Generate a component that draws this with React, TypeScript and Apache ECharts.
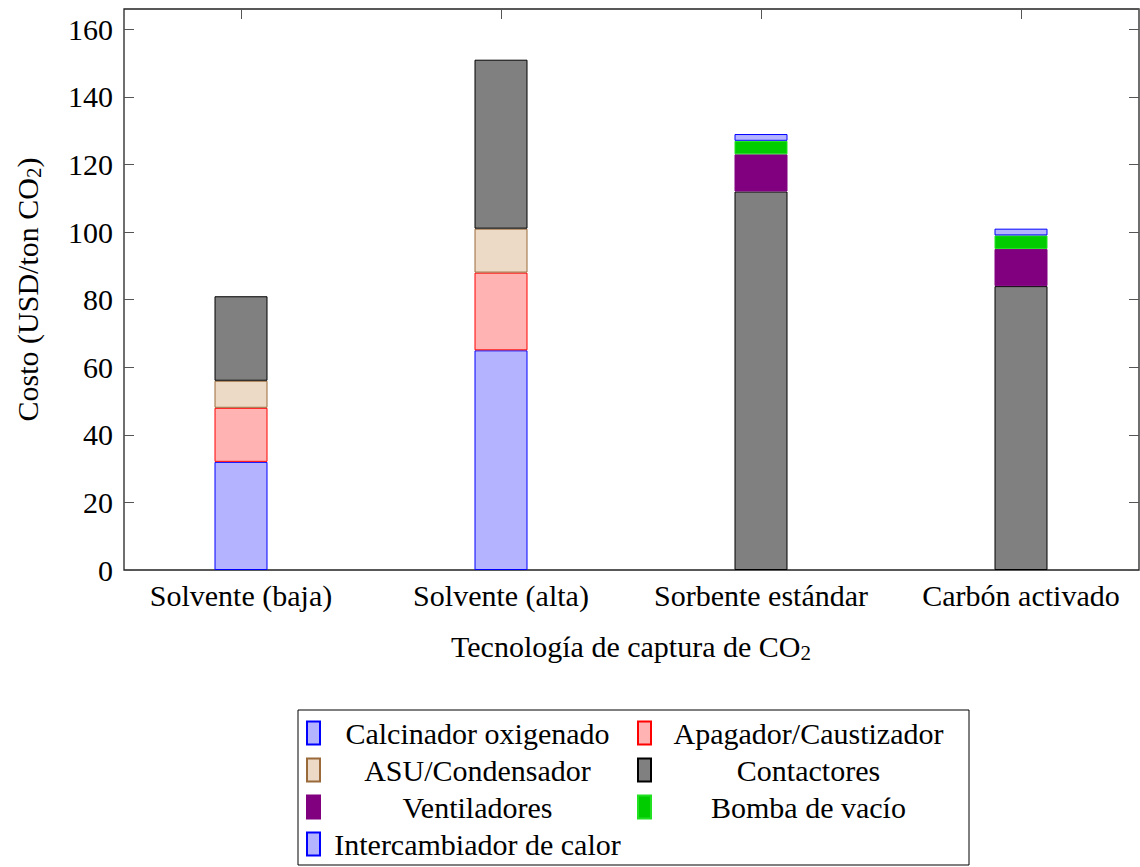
import React, { useEffect, useRef } from "react";
import * as echarts from "echarts";

// Cost breakdown per capture technology (USD per ton of CO2)
const categories = ["Solvente (baja)", "Solvente (alta)", "Sorbente estándar", "Carbón activado"];
const calcinador = [32, 65, null, null];
const apagador = [16, 23, null, null];
const asu = [8, 13, null, null];
const contactores = [25, 50, 112, 84];
const ventiladores = [null, null, 11, 11];
const bomba = [null, null, 4, 4];
const intercambiador = [null, null, 2, 2];

const yTicks = { min: 0, max: 166, interval: 20 };

const FONT = "Liberation Serif";
const FS = 30;

const seriesDefs = [
  { name: "Calcinador oxigenado", data: calcinador, fill: "#b3b3ff", stroke: "#0000ff" },
  { name: "Apagador/Caustizador", data: apagador, fill: "#ffb3b3", stroke: "#ff0000" },
  { name: "ASU/Condensador", data: asu, fill: "#ecd9c6", stroke: "#9a6a3a" },
  { name: "Contactores", data: contactores, fill: "#808080", stroke: "#000000" },
  { name: "Ventiladores", data: ventiladores, fill: "#800080", stroke: "#800080" },
  { name: "Bomba de vacío", data: bomba, fill: "#00cc00", stroke: "#22e022" },
  { name: "Intercambiador de calor", data: intercambiador, fill: "#b3b3ff", stroke: "#0000ff" },
];

// The canvas is a little wider than the page so the bar grid can extend past
// the frame: categories then keep the spacing of an axis with enlarged limits.
const CANVAS_W = 1160;
const FRAME = { left: 124, right: CANVAS_W - 1139, top: 9, bottom: 297 };
const BARS = { left: 111, width: 1040, top: 9, bottom: 297 };

export default function App() {
  const ref = useRef<HTMLDivElement>(null);

  useEffect(() => {
    if (!ref.current) return;
    const chart = echarts.init(ref.current, null, { renderer: "svg" });

    const subRich = {
      sub: { fontSize: 21, fontFamily: FONT, color: "#000", padding: [12, 0, 0, 0] },
    };

    const innerTick = { show: true, inside: true, length: 10, lineStyle: { color: "#555", width: 1 } };
    const noLine = { show: false, onZero: false };

    chart.setOption({
      animation: false,
      textStyle: { fontFamily: FONT },
      grid: [
        {
          ...FRAME,
          containLabel: false,
          show: true,
          borderColor: "#222",
          borderWidth: 1.3,
          backgroundColor: "transparent",
        },
        { ...BARS, containLabel: false },
      ],
      legend: {
        left: 298,
        top: 710,
        width: 664,
        orient: "horizontal",
        padding: [8, 8, 6, 8],
        itemGap: 7,
        itemWidth: 13,
        itemHeight: 23,
        borderColor: "#000",
        borderWidth: 1,
        icon: "rect",
        formatter: (name: string) => `{t|${name}}`,
        textStyle: {
          fontFamily: FONT,
          fontSize: FS,
          color: "#000",
          rich: {
            t: { width: 305, align: "center", fontSize: FS, lineHeight: 29, fontFamily: FONT, color: "#000" },
          },
        },
        data: seriesDefs.map((s) => s.name),
      },
      xAxis: [
        {
          gridIndex: 1,
          type: "category",
          data: categories,
          position: "bottom",
          axisLine: noLine,
          axisTick: { show: false },
          axisLabel: { interval: 0, fontSize: FS, color: "#000", fontFamily: FONT, margin: 10 },
          name: "Tecnología de captura de CO{sub|2}",
          nameLocation: "middle",
          nameGap: 60,
          nameTextStyle: { fontSize: FS, color: "#000", fontFamily: FONT, rich: subRich },
        },
        {
          gridIndex: 1,
          type: "category",
          data: categories,
          position: "top",
          axisLine: noLine,
          axisTick: { ...innerTick, alignWithLabel: true, interval: 0 },
          axisLabel: { show: false },
        },
        {
          gridIndex: 0,
          type: "value",
          min: 0,
          max: 1,
          show: false,
          splitLine: { show: false },
        },
      ],
      yAxis: [
        {
          gridIndex: 0,
          type: "value",
          ...yTicks,
          position: "left",
          axisLine: noLine,
          axisTick: innerTick,
          splitLine: { show: false },
          axisLabel: { fontSize: FS, color: "#000", fontFamily: FONT, margin: 11, showMaxLabel: false },
          name: "Costo (USD/ton CO{sub|2})",
          nameLocation: "middle",
          nameGap: 80,
          nameTextStyle: { fontSize: FS, color: "#000", fontFamily: FONT, rich: subRich },
        },
        {
          gridIndex: 0,
          type: "value",
          ...yTicks,
          position: "right",
          axisLine: noLine,
          axisTick: innerTick,
          splitLine: { show: false },
          axisLabel: { show: false },
        },
        {
          gridIndex: 1,
          type: "value",
          ...yTicks,
          show: false,
          splitLine: { show: false },
        },
      ],
      series: seriesDefs.map((s) => ({
        type: "bar",
        name: s.name,
        stack: "total",
        xAxisIndex: 0,
        yAxisIndex: 2,
        barWidth: 53,
        data: s.data,
        itemStyle: { color: s.fill, borderColor: s.stroke, borderWidth: 1 },
        emphasis: { disabled: true },
      })),
    });

    return () => chart.dispose();
  }, []);

  return (
    <div
      ref={ref}
      style={{ position: "fixed", left: 0, top: 0, width: CANVAS_W, height: 867, background: "#fff" }}
    />
  );
}
